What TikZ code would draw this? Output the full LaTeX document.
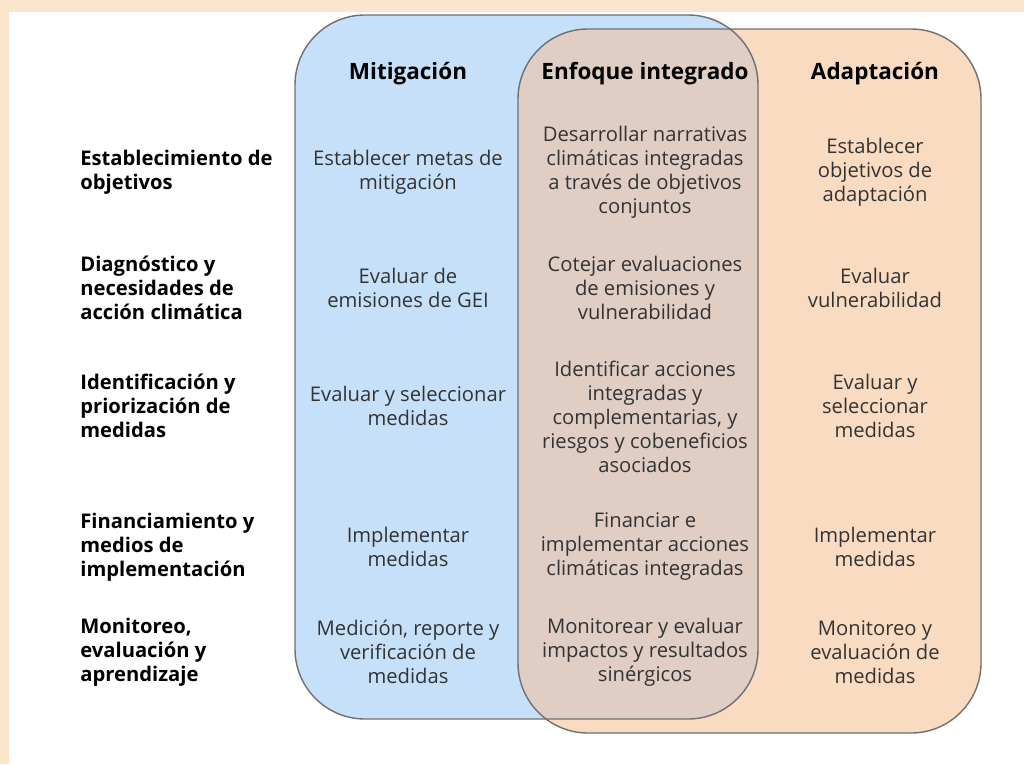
\documentclass[tikz,border=0pt]{standalone}
\usepackage{fontspec}
\setmainfont{Open Sans}
\definecolor{framepeach}{RGB}{252,229,205}
\definecolor{mitblue}{RGB}{197,224,248}
\definecolor{adaporange}{RGB}{249,219,194}
\definecolor{intbrown}{RGB}{224,205,196}
\definecolor{edgegrey}{RGB}{112,112,112}
\definecolor{txtgrey}{RGB}{51,51,51}

\begin{document}
\begin{tikzpicture}[x=0.02cm,y=-0.02cm,
  rowlbl/.style={anchor=west,align=left,inner sep=0pt,font=\bfseries\fontsize{11.5}{13.66}\selectfont},
  cell/.style={align=center,text=txtgrey,font=\fontsize{11.5}{13.66}\selectfont},
  colhead/.style={font=\bfseries\fontsize{12.8}{15}\selectfont},
  venn/.style={rounded corners=1.4cm}]
\useasboundingbox (0,0) rectangle (1024,764);
% frame
\fill[framepeach] (0,0) rectangle (1024,764);
\fill[white] (9,12) rectangle (1024,764);
% the two sets and their overlap
\fill[mitblue,venn] (295,15) rectangle (758,719);
\fill[adaporange,venn] (518,29) rectangle (981,733);
\begin{scope}
\clip[venn] (295,15) rectangle (758,719);
\fill[intbrown,venn] (518,29) rectangle (981,733);
\end{scope}
\draw[edgegrey,line width=0.8pt,venn] (295,15) rectangle (758,719);
\draw[edgegrey,line width=0.8pt,venn] (518,29) rectangle (981,733);
% column heads
\node[colhead] (hmit) at (408,74) {Mitigación};
\node[colhead] (hint) at (645,74) {Enfoque integrado};
\node[colhead] (hada) at (875,74) {Adaptación};
% row labels
\node[rowlbl] (r1) at (80,172) {Establecimiento de\\objetivos};
\node[rowlbl] (r2) at (80,288) {Diagnóstico y\\necesidades de\\acción climática};
\node[rowlbl] (r3) at (80,406) {Identificación y\\priorización de\\medidas};
\node[rowlbl] (r4) at (80,547) {Financiamiento y\\medios de\\implementación};
\node[rowlbl] (r5) at (80,652) {Monitoreo,\\evaluación y\\aprendizaje};
% mitigacion
\node[cell] (m1) at (408,172) {Establecer metas de\\mitigación};
\node[cell] (m2) at (408,288) {Evaluar de\\emisiones de GEI};
\node[cell] (m3) at (408,406) {Evaluar y seleccionar\\medidas};
\node[cell] (m4) at (408,547) {Implementar\\medidas};
\node[cell] (m5) at (408,652) {Medición, reporte y\\verificación de\\medidas};
% enfoque integrado
\node[cell] (i1) at (645,172) {Desarrollar narrativas\\climáticas integradas\\a través de objetivos\\conjuntos};
\node[cell] (i2) at (645,288) {Cotejar evaluaciones\\de emisiones y\\vulnerabilidad};
\node[cell] (i3) at (645,417) {Identificar acciones\\integradas y\\complementarias, y\\riesgos y cobeneficios\\asociados};
\node[cell] (i4) at (645,547) {Financiar e\\implementar acciones\\climáticas integradas};
\node[cell] (i5) at (645,652) {Monitorear y evaluar\\impactos y resultados\\sinérgicos};
% adaptacion
\node[cell] (a1) at (875,172) {Establecer\\objetivos de\\adaptación};
\node[cell] (a2) at (875,288) {Evaluar\\vulnerabilidad};
\node[cell] (a3) at (875,406) {Evaluar y\\seleccionar\\medidas};
\node[cell] (a4) at (875,547) {Implementar\\medidas};
\node[cell] (a5) at (875,652) {Monitoreo y\\evaluación de\\medidas};
\end{tikzpicture}
\end{document}
